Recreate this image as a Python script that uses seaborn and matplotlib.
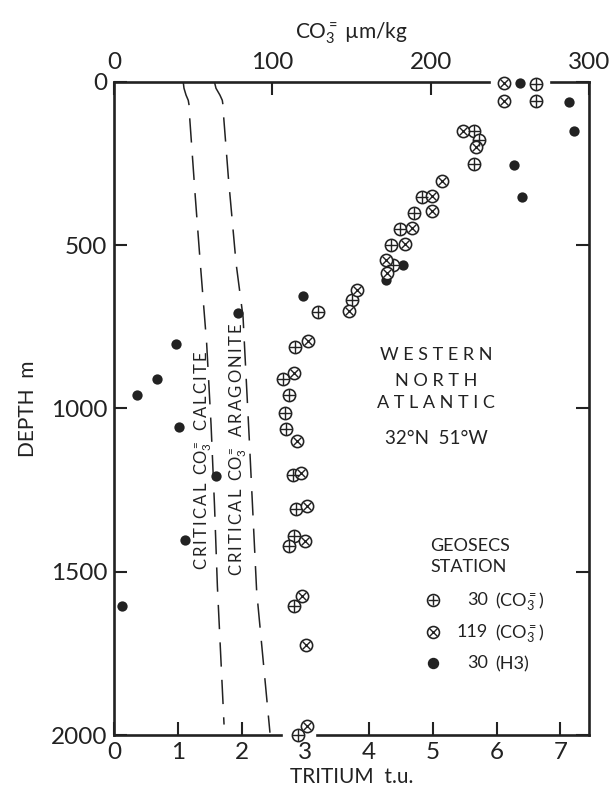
import numpy as np
import pandas as pd
import matplotlib
matplotlib.use("Agg")
import matplotlib.pyplot as plt
import seaborn as sns

# ---------------- data ----------------
# GEOSECS station 30, carbonate ion (umol/kg) vs depth (m)
s30_co3 = [266.5, 266.5, 227.6, 230.7, 227.6, 194.3, 189.7, 180.6, 175.0, 176.4,
           150.1, 129.0, 114.3, 106.5, 110.5, 108.0, 108.4, 112.8, 115.0, 113.7,
           110.7, 113.7, 116.4]
s30_depth = [7, 58, 150, 177, 253, 352, 401, 452, 500, 561,
             668, 706, 811, 911, 959, 1015, 1064, 1205, 1308, 1392,
             1420, 1604, 2001]

# GEOSECS station 119, carbonate ion (umol/kg) vs depth (m)
s119_co3 = [246.3, 246.3, 220.2, 228.4, 207.0, 200.6, 200.6, 188.0, 183.8, 171.8,
            172.6, 153.3, 148.6, 122.7, 113.7, 115.8, 117.9, 122.1, 120.6, 118.5,
            121.3, 122.1]
s119_depth = [5, 58, 150, 199, 304, 350, 396, 449, 498, 545,
              586, 638, 701, 793, 892, 1101, 1198, 1300, 1405, 1573,
              1726, 1973]

# GEOSECS station 30, tritium (t.u.) vs depth (m)
h3_tu = [6.36, 7.14, 7.22, 6.28, 6.40, 4.53, 4.27, 2.96, 1.95, 0.98,
         0.67, 0.36, 1.02, 1.60, 1.11, 0.13]
h3_depth = [4, 62, 150, 254, 354, 561, 607, 655, 707, 804,
            911, 959, 1057, 1208, 1404, 1604]

# critical carbonate ion concentrations
calcite_co3 = [43.7, 44.2, 45.5, 46.9, 47.6, 47.8, 51.3, 54.5, 58.5, 61.3, 63.5, 65.3, 69.5]
calcite_depth = [0, 20, 41, 57, 77, 110, 350, 556, 800, 1050, 1300, 1545, 1968]
aragonite_co3 = [63.4, 64.4, 66.9, 68.4, 69.0, 69.3, 72.2, 77.1, 81.5, 85.5, 90.1, 98.5]
aragonite_depth = [0, 20, 41, 57, 77, 110, 291, 556, 720, 1100, 1560, 1993]

co3_ticks = [0, 100, 200, 300]
tu_ticks = [0, 1, 2, 3, 4, 5, 6, 7]
depth_ticks = [0, 500, 1000, 1500, 2000]

# ---------------- style ----------------
sns.set_style("white")
plt.rcParams["font.family"] = ["Lato", "DejaVu Sans"]
plt.rcParams["mathtext.fontset"] = "custom"
plt.rcParams["mathtext.rm"] = "Lato"
plt.rcParams["mathtext.it"] = "Lato:italic"
plt.rcParams["mathtext.default"] = "regular"
INK = "#222222"
FW = "normal"


def spaced(word):
    """Letter-spaced word in mathtext."""
    return r"$\mathrm{" + r"\,".join(word) + "}$"


fig = plt.figure(figsize=(6.09, 7.93), dpi=100)
ax = fig.add_axes([114 / 609, 1 - 735 / 793, 475 / 609, (735 - 81.7) / 793])
ax2 = ax.twiny()

# tritium (bottom axis)
sns.scatterplot(x=h3_tu, y=h3_depth, ax=ax, marker="o", s=55, color=INK,
                edgecolor=INK, linewidth=0, clip_on=False, zorder=5)

# carbonate ion (top axis): open circles with + or x inside
circ_s = 78
for co3, dep, inner, inner_s in [(s30_co3, s30_depth, "+", circ_s * 0.85),
                                 (s119_co3, s119_depth, "x", circ_s * 0.42)]:
    sns.scatterplot(x=co3, y=dep, ax=ax2, marker="o", s=circ_s, facecolor="white",
                    edgecolor=INK, linewidth=1.15, clip_on=False, zorder=5)
    sns.scatterplot(x=co3, y=dep, ax=ax2, marker=inner, s=inner_s, color=INK,
                    linewidth=1.0, clip_on=False, zorder=6)

# critical CO3 curves
for xs, ys in [(calcite_co3, calcite_depth), (aragonite_co3, aragonite_depth)]:
    sns.lineplot(x=xs, y=ys, ax=ax2, sort=False, estimator=None, color=INK,
                 linewidth=1.1, zorder=3)
    ax2.lines[-1].set_dashes((17.5 / 1.1, 9.5 / 1.1))

# ---------------- axes ----------------
ax.set_xlim(0, 7.45)
ax.set_ylim(2000, 0)
ax2.set_xlim(0, 300)
ax2.set_ylim(2000, 0)

for a in (ax, ax2):
    for side in ("top", "bottom"):
        a.spines[side].set_visible(False)
    for side in ("left", "right"):
        a.spines[side].set_color(INK)
        a.spines[side].set_linewidth(1.9)
ax2.spines["left"].set_visible(False)
ax2.spines["right"].set_visible(False)

# top and bottom frame lines, broken where the markers sit on them
top_gap = (237, 276)
bot_gap = (2.62, 3.19)
ax2.plot([0, top_gap[0]], [0, 0], color=INK, lw=1.9, clip_on=False,
         solid_capstyle="projecting", zorder=4)
ax2.plot([top_gap[1], 300], [0, 0], color=INK, lw=1.9, clip_on=False,
         solid_capstyle="projecting", zorder=4)
ax.plot([0, bot_gap[0]], [2000, 2000], color=INK, lw=1.9, clip_on=False,
        solid_capstyle="projecting", zorder=4)
ax.plot([bot_gap[1], 7.45], [2000, 2000], color=INK, lw=1.9, clip_on=False,
        solid_capstyle="projecting", zorder=4)

tick_kw = dict(direction="in", length=9.5, width=1.5, color=INK,
               labelsize=17.5, labelcolor=INK)
ax.set_xticks(tu_ticks)
ax.set_xticklabels([str(t) for t in tu_ticks], fontweight=FW)
ax.set_yticks(depth_ticks)
ax.set_yticklabels([str(t) for t in depth_ticks], fontweight=FW)
ax.tick_params(axis="x", bottom=True, top=False, pad=5, **tick_kw)
ax.tick_params(axis="y", left=True, right=True, pad=5, **tick_kw)
ax.xaxis.get_major_ticks()[3].tick1line.set_visible(False)

ax2.set_xticks(co3_ticks)
ax2.set_xticklabels([str(t) for t in co3_ticks], fontweight=FW)
ax2.tick_params(axis="x", top=True, bottom=False, pad=6, **tick_kw)
ax2.tick_params(axis="y", left=False, right=False, labelleft=False)

ax.set_xlabel("TRITIUM  t.u.", fontsize=15, color=INK, fontweight=FW, labelpad=3)
ax.set_ylabel("DEPTH  m", fontsize=15, color=INK, fontweight=FW, labelpad=9)
ax2.set_xlabel("CO$_3^=$ µm/kg", fontsize=15, color=INK, fontweight=FW, labelpad=10)
ax2.set_ylabel("")

# ---------------- annotations ----------------
txt = dict(color=INK, fontweight=FW, transform=ax.transAxes)
ax.text(0.678, 0.5817, "W E S T E R N", ha="center", va="center", fontsize=13, **txt)
ax.text(0.678, 0.5419, "N O R T H", ha="center", va="center", fontsize=13, **txt)
ax.text(0.678, 0.5082, "A T L A N T I C", ha="center", va="center", fontsize=13, **txt)
ax.text(0.678, 0.4546, "32°N  51°W", ha="center", va="center", fontsize=13.5, **txt)

ax.text(0.6653, 0.2893, "GEOSECS", ha="left", va="center", fontsize=13, **txt)
ax.text(0.6653, 0.2572, "STATION", ha="left", va="center", fontsize=13, **txt)

legend_rows = [("+", "30", "(CO$_3^=$)", 0.2066),
               ("x", "119", "(CO$_3^=$)", 0.1577),
               ("dot", "30", "(H3)", 0.1102)]
for kind, num, par, yy in legend_rows:
    if kind == "dot":
        ax.plot([0.6716], [yy], marker="o", ms=7.2, color=INK, mec=INK,
                transform=ax.transAxes, clip_on=False)
    else:
        ax.plot([0.6716], [yy], marker="o", ms=8.6, mfc="white", mec=INK,
                mew=1.15, transform=ax.transAxes, clip_on=False)
        ax.plot([0.6716], [yy], marker=kind, ms=7.9 if kind == "+" else 5.6,
                color=INK, mew=1.0, transform=ax.transAxes, clip_on=False)
    ax.text(0.7874, yy, num, ha="right", va="center", fontsize=13, **txt)
    ax.text(0.8021, yy - 0.0095, par, ha="left", va="baseline", fontsize=13, **txt)

# labels along the critical curves; the dashed line runs along their baseline
ax2.text(59.3, 1160,
         spaced("CRITICAL") + "  CO$_3^=$  " + spaced("CALCITE"),
         rotation=90, rotation_mode="anchor", ha="center", va="baseline",
         fontsize=12, color=INK)
ax2.text(81.2, 1125,
         spaced("CRITICAL") + "  CO$_3^=$  " + spaced("ARAGONITE"),
         rotation=90, rotation_mode="anchor", ha="center", va="baseline",
         fontsize=12, color=INK)

fig.savefig("out.png", dpi=100, facecolor="white")
